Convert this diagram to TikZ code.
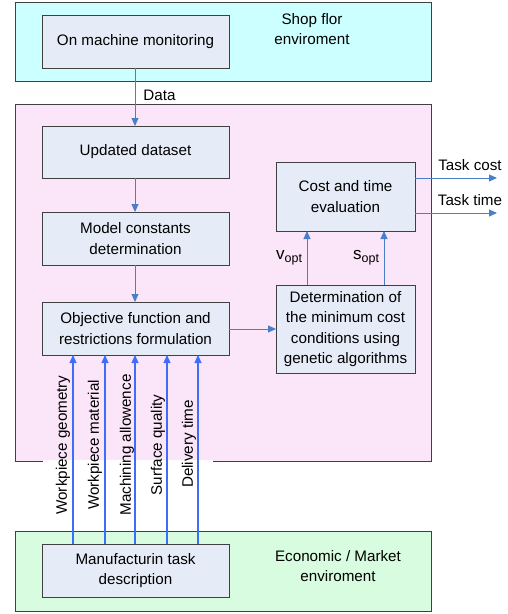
\documentclass[tikz,border=0pt]{standalone}
\usepackage{fontspec}
\setmainfont{Liberation Sans}
\usetikzlibrary{arrows.meta}
\definecolor{shopc}{HTML}{CCFFFF}
\definecolor{pinkc}{HTML}{FBE6F9}
\definecolor{greenc}{HTML}{D7FCE0}
\definecolor{boxc}{HTML}{E6ECF7}
\definecolor{edgec}{HTML}{404040}
\definecolor{arrc}{HTML}{4A7EC8}
\definecolor{inc}{HTML}{3F6DF5}
\tikzset{
  x=1pt, y=-1pt,
  every node/.style={font=\fontsize{15.2}{20.5}\selectfont, inner sep=0pt},
  zone/.style={draw=edgec, line width=0.9pt},
  procbox/.style={draw=edgec, fill=boxc, line width=0.9pt},
  flow/.style={draw=arrc, line width=0.9pt, -{Triangle[length=8pt,width=7pt]}},
  inflow/.style={draw=inc, line width=1.1pt, -{Triangle[length=8pt,width=7pt]}},
  txt/.style={align=center},
  vlabel/.style={rotate=90, anchor=center}
}
\begin{document}
\begin{tikzpicture}
\useasboundingbox (0,0) rectangle (507,614);
% zones
\draw[zone, fill=shopc] (15,2) rectangle (431,81);
\draw[zone, fill=pinkc] (15,104) rectangle (431,461);
\fill[white] (43,459.5) rectangle (213,470);
\draw[zone, fill=greenc] (15,531) rectangle (431,611);
\node[txt] (shop) at (312,29) {Shop flor\\enviroment};
\node[txt] (econ) at (338,566) {Economic / Market\\enviroment};
% boxes
\draw[procbox] (42,15) rectangle (229,68);
\node[txt] (mon) at (135.5,41.5) {On machine monitoring};
\coordinate (monS) at (135,68);
\draw[procbox] (42,126) rectangle (229,178);
\node[txt] (upd) at (135.5,152) {Updated dataset};
\coordinate (updN) at (135,126);
\coordinate (updS) at (135,178);
\draw[procbox] (42,212) rectangle (229,265);
\node[txt] (mod) at (135.5,238.5) {Model constants\\determination};
\coordinate (modN) at (135,212);
\coordinate (modS) at (135,265);
\draw[procbox] (42,302) rectangle (229,355);
\node[txt] (obj) at (135.5,328.5) {Objective function and\\restrictions formulation};
\coordinate (objN) at (135,302);
\coordinate (objE) at (229,329);
\draw[procbox] (276,285) rectangle (415,373);
\node[txt] (det) at (345.5,329) {Determination of\\the minimum cost\\conditions using\\genetic algorithms};
\coordinate (detW) at (276,329);
\draw[procbox] (276,162) rectangle (415,231);
\node[txt] (cost) at (345.5,196.5) {Cost and time\\evaluation};
\draw[procbox] (42,544) rectangle (229,597);
\node[txt] (man) at (135.5,570.5) {Manufacturin task\\description};
% main flow
\draw[flow] (monS) -- node[pos=0.47, right=8pt] (data) {Data} (updN);
\draw[flow] (updS) -- (modN);
\draw[flow] (modS) -- (objN);
\draw[flow] (objE) -- (detW);
\draw[flow] (307,285) -- node[left=4pt, pos=0.5] (vopt) {{\fontsize{17}{17}\selectfont v}\textsubscript{\fontsize{12.5}{12.5}\selectfont opt}} (307,231);
\draw[flow] (384,285) -- node[left=4pt, pos=0.5] (sopt) {{\fontsize{17}{17}\selectfont s}\textsubscript{\fontsize{12.5}{12.5}\selectfont opt}} (384,231);
\coordinate (tc) at (497,178);
\coordinate (tt) at (497,213);
\draw[flow] (415,178) -- (tc);
\draw[flow] (415,213) -- (tt);
\node[anchor=center] (tcl) at (470,165) {Task cost};
\node[anchor=center] (ttl) at (470,200) {Task time};
% inputs
\node[vlabel] (l1) at (63,445) {Workpiece geometry};
\node[vlabel] (l2) at (95,445) {Workpiece material};
\node[vlabel] (l3) at (127,445) {Machining allowence};
\node[vlabel] (l4) at (158,445) {Surface quality};
\node[vlabel] (l5) at (189,444) {Delivery time};
\foreach \xx in {73,105,135,167,198}{
  \draw[inflow] (\xx,544) -- (\xx,355);
}
\end{tikzpicture}
\end{document}
